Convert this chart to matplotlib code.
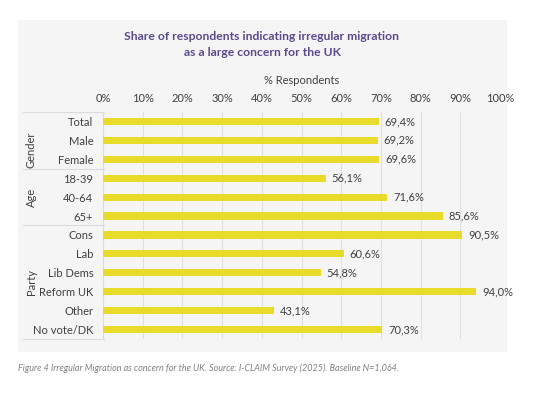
import matplotlib
matplotlib.use("Agg")
import matplotlib.pyplot as plt
from matplotlib.patches import Rectangle
import matplotlib.transforms as mtransforms

categories = ["Total", "Male", "Female", "18-39", "40-64", "65+",
              "Cons", "Lab", "Lib Dems", "Reform UK", "Other", "No vote/DK"]
values = [69.4, 69.2, 69.6, 56.1, 71.6, 85.6, 90.5, 60.6, 54.8, 94.0, 43.1, 70.3]
value_labels = ["69,4%", "69,2%", "69,6%", "56,1%", "71,6%", "85,6%",
                "90,5%", "60,6%", "54,8%", "94,0%", "43,1%", "70,3%"]
groups = [("Gender", 1, 2), ("Age", 3, 5), ("Party", 6, 11)]
xticks = [0, 10, 20, 30, 40, 50, 60, 70, 80, 90, 100]
xtick_labels = [f"{t}%" for t in xticks]

plt.rcParams['font.family'] = ['Lato', 'DejaVu Sans']

W, H = 542, 398
fig = plt.figure(figsize=(W / 100, H / 100), dpi=100)
fig.patch.set_facecolor("white")

def fx(px):
    return px / W

def fy(py):
    return 1 - py / H

# panel background
fig.patches.append(Rectangle((fx(18), fy(352)), fx(507) - fx(18), fy(20) - fy(352),
                             transform=fig.transFigure, facecolor="#f5f5f5",
                             edgecolor="none", zorder=-5))

ax = fig.add_axes([fx(103), fy(339), fx(500) - fx(103), fy(112) - fy(339)])
ax.set_facecolor("none")
n = len(categories)
ypos = list(range(n))
ax.barh(ypos, values, height=0.38, color="#e8db2a", zorder=3)
ax.set_xlim(0, 100)
ax.set_ylim(n - 0.5, -0.5)
ax.set_xticks(xticks)
ax.set_xticklabels(xtick_labels, fontsize=8, color="#404040")
ax.xaxis.tick_top()
ax.tick_params(axis="x", length=0, pad=6)
ax.set_yticks(ypos)
ax.set_yticklabels(categories, fontsize=8, color="#404040")
ax.tick_params(axis="y", length=0, pad=7)
ax.grid(axis="x", color="#e0e0e0", linewidth=0.8, zorder=0)
ax.set_axisbelow(True)
for s in ["top", "right", "bottom"]:
    ax.spines[s].set_visible(False)
ax.spines["left"].set_color("#dcdcdc")
ax.spines["left"].set_linewidth(0.8)

ax.set_xlabel("% Respondents", fontsize=8, color="#404040", labelpad=6)
ax.xaxis.set_label_position("top")

for y, v, lab in zip(ypos, values, value_labels):
    ax.text(v + 1.5, y, lab, va="center", ha="left", fontsize=8, color="#404040")

# group labels & separators
trans = mtransforms.blended_transform_factory(fig.transFigure, ax.transData)
for name, a, b in groups:
    ax.text(fx(31), (a + b) / 2, name, rotation=90, va="center", ha="center",
            fontsize=8, color="#404040", transform=trans, clip_on=False)
for yb in [-0.5, 2.5, 5.5, n - 0.5]:
    ax.plot([fx(23), fx(104)], [yb, yb], transform=trans, color="#dcdcdc",
            linewidth=0.8, clip_on=False)

fig.text(fx(262), fy(37), "Share of respondents indicating irregular migration",
         ha="center", va="center", fontsize=8.7, fontweight="bold", color="#5b4a8b")
fig.text(fx(262), fy(53), "as a large concern for the UK",
         ha="center", va="center", fontsize=8.7, fontweight="bold", color="#5b4a8b")

fig.text(fx(18), fy(368), "Figure 4 Irregular Migration as concern for the UK. Source: I-CLAIM Survey (2025). Baseline N=1,064.",
         ha="left", va="center", fontsize=6.5, style="italic", color="#808080")

fig.savefig("out.png", dpi=100)
